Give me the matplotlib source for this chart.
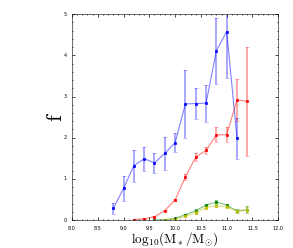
import matplotlib
matplotlib.use("Agg")
import matplotlib.pyplot as plt

plt.style.use("classic")
plt.rcParams['mathtext.fontset'] = 'cm'

x_blue = [8.8, 9.0, 9.2, 9.4, 9.6, 9.8, 10.0, 10.2, 10.4, 10.6, 10.8, 11.0, 11.2]
y_blue = [0.28, 0.77, 1.32, 1.49, 1.39, 1.62, 1.88, 2.82, 2.83, 2.84, 4.11, 4.58, 1.99]
e_blue = [0.13, 0.30, 0.39, 0.29, 0.24, 0.40, 0.23, 0.82, 0.38, 0.45, 0.80, 1.14, 0.50]

x_red = [9.2, 9.4, 9.6, 9.8, 10.0, 10.2, 10.4, 10.6, 10.8, 11.0, 11.2, 11.4]
y_red = [0.01, 0.03, 0.08, 0.23, 0.49, 1.05, 1.53, 1.69, 2.07, 2.07, 2.92, 2.88]
e_red = [0.01, 0.01, 0.02, 0.02, 0.03, 0.08, 0.10, 0.09, 0.18, 0.18, 0.51, 1.33]

x_green = [9.6, 9.8, 10.0, 10.2, 10.4, 10.6, 10.8, 11.0, 11.2, 11.4]
y_green = [0.0, 0.01, 0.04, 0.13, 0.23, 0.36, 0.44, 0.36, 0.22, 0.25]
e_green = [0.0, 0.01, 0.01, 0.02, 0.03, 0.03, 0.04, 0.04, 0.04, 0.08]

x_yellow = [9.8, 10.0, 10.2, 10.4, 10.6, 10.8, 11.0, 11.2, 11.4]
y_yellow = [0.0, 0.02, 0.09, 0.18, 0.30, 0.35, 0.32, 0.21, 0.24]
e_yellow = [0.0, 0.01, 0.02, 0.03, 0.03, 0.04, 0.04, 0.04, 0.08]

fig = plt.figure(figsize=(2.93, 2.48), dpi=100, facecolor='white')
ax = fig.add_axes([0.2457, 0.1129, 0.7040, 0.8296])

for xs, ys, es, c in [(x_blue, y_blue, e_blue, 'b'), (x_red, y_red, e_red, 'r'),
                      (x_green, y_green, e_green, 'g'), (x_yellow, y_yellow, e_yellow, 'y')]:
    ax.errorbar(xs, ys, yerr=es, fmt='none', ecolor=c, alpha=0.4, elinewidth=1.2, capsize=1.5)
    ax.plot(xs, ys, '-', color=c, alpha=0.5, lw=0.8)
    ax.plot(xs, ys, 's', color=c, mec=c, ms=2)

ax.set_xlim(8.0, 12.0)
ax.set_ylim(0, 5)
ax.set_xticks([8.0, 8.5, 9.0, 9.5, 10.0, 10.5, 11.0, 11.5, 12.0])
ax.set_yticks([0, 1, 2, 3, 4, 5])
ax.minorticks_on()
ax.tick_params(which='both', labelsize=3.5, width=0.5)
ax.tick_params(which='major', length=2)
ax.tick_params(which='minor', length=1)
for s in ax.spines.values():
    s.set_linewidth(0.6)
    s.set_color('#555555')
ax.set_xlabel(r'$\mathrm{log_{10}(M_*/M_{\odot})}$', fontsize=9.5, labelpad=-0.5)
ax.set_ylabel(r'$\mathrm{f}$', fontsize=16, labelpad=-2)

fig.savefig('out.png', dpi=100, facecolor='white')
